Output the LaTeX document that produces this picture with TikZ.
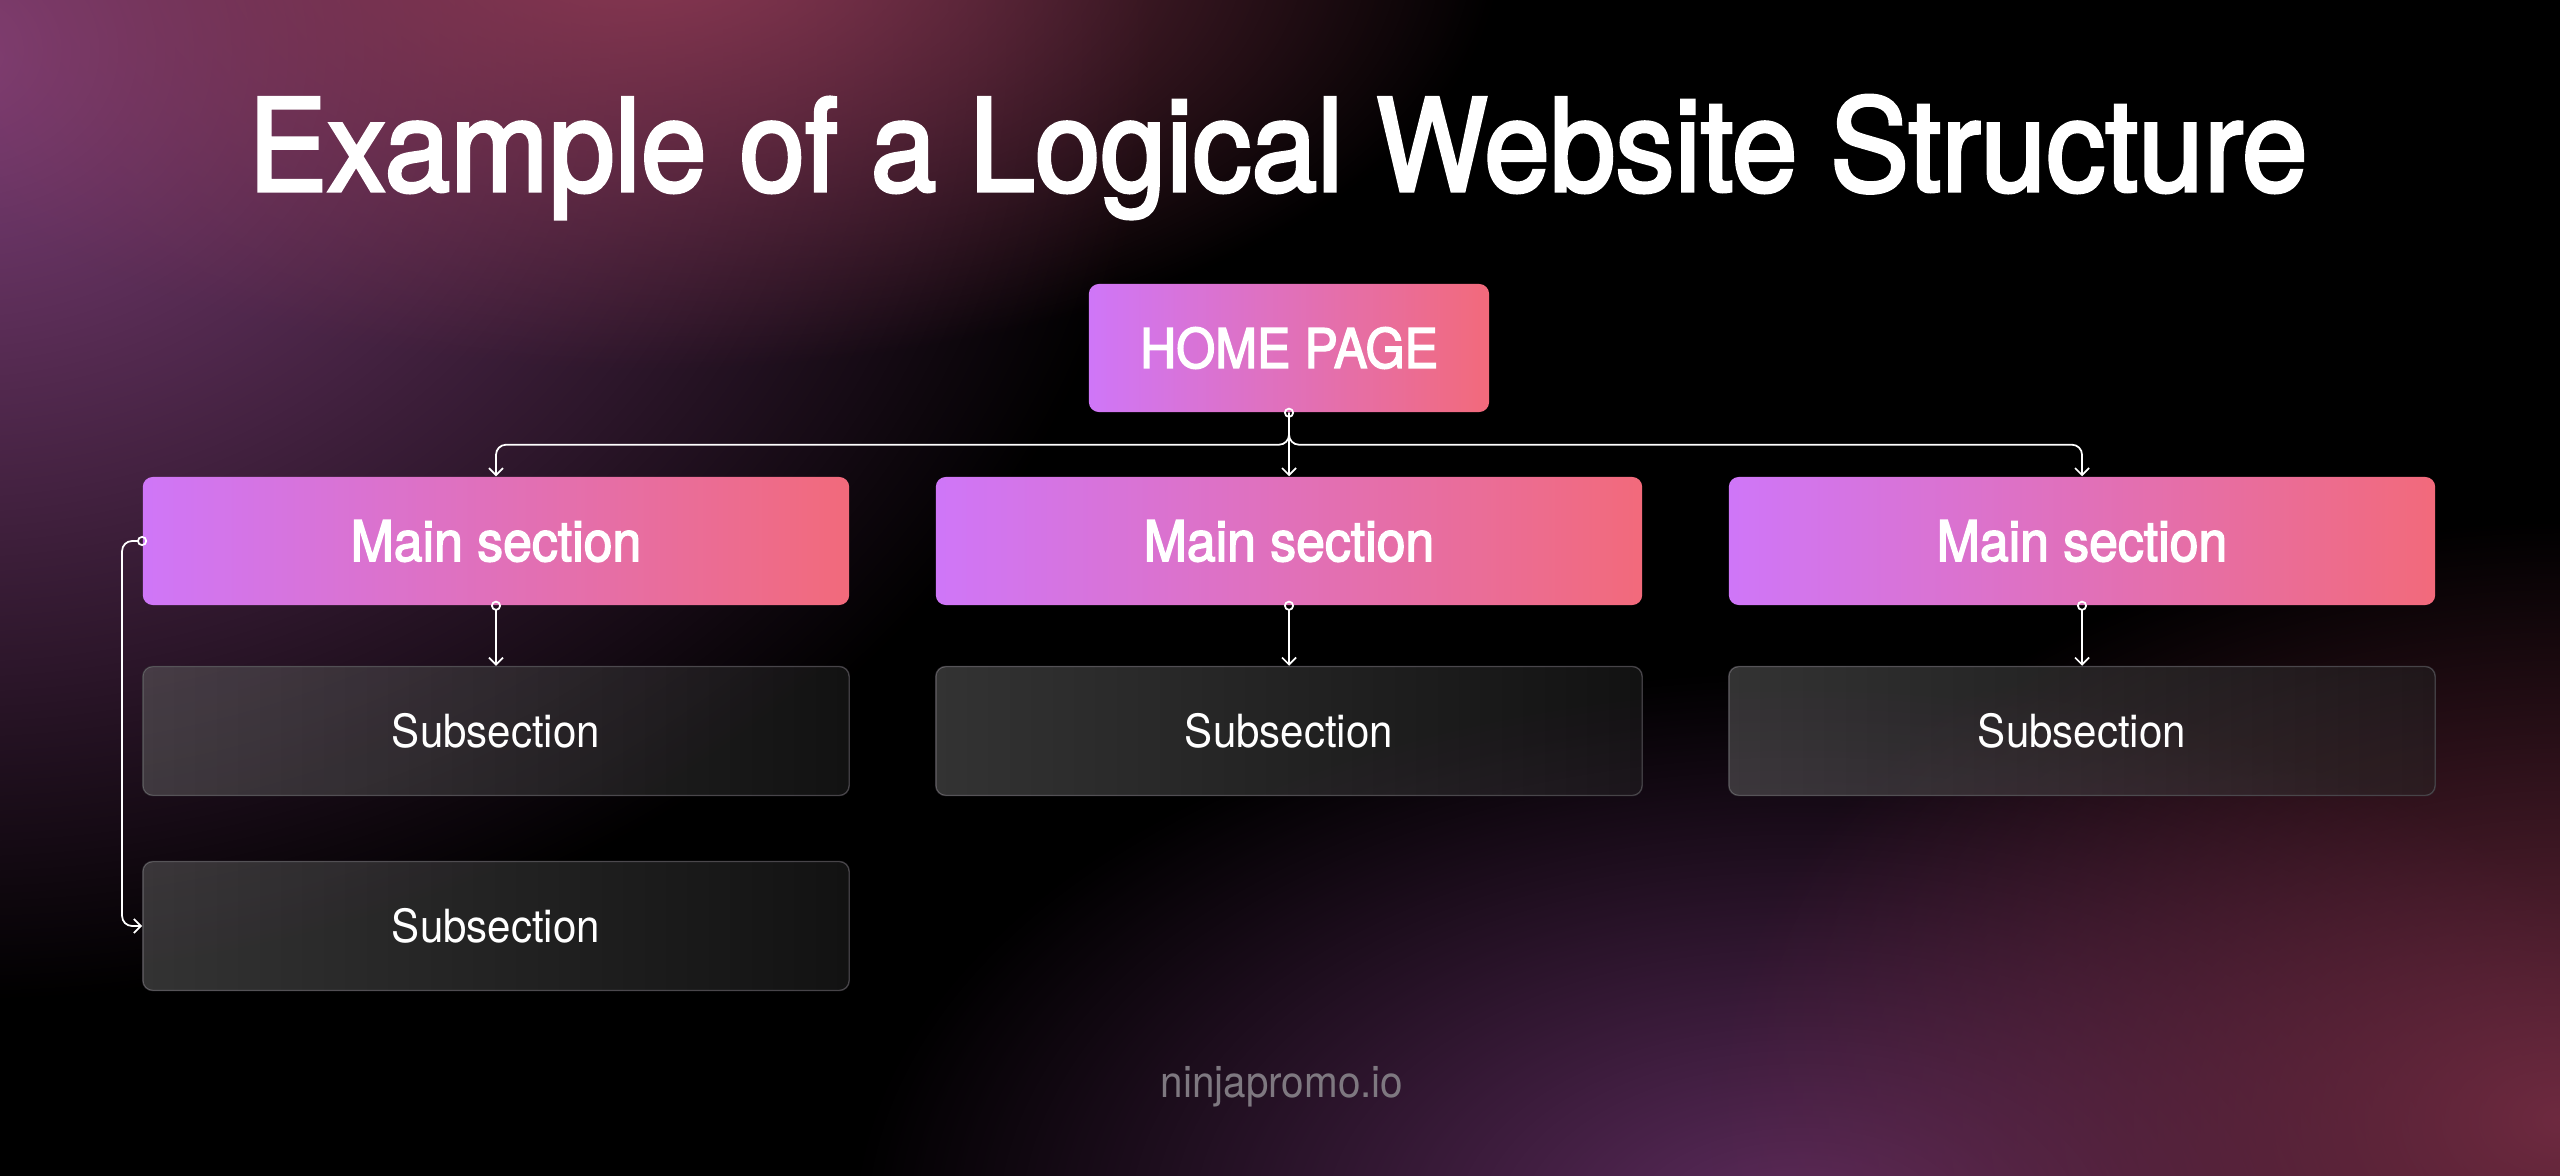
\documentclass[tikz,border=0pt]{standalone}
\usepackage{fontspec}
\setmainfont{TeX Gyre Heros}[FakeStretch=0.92]
\newfontfamily\mittel{TeX Gyre Heros}[FakeStretch=0.92,FakeBold=2.5]
\usetikzlibrary{arrows.meta,positioning,fadings,calc}

\definecolor{lila}{HTML}{CF76F8}
\definecolor{koralle}{HTML}{F26A7B}
\definecolor{glowA}{HTML}{80407A}
\definecolor{glowB}{HTML}{8A3852}
\definecolor{glowC}{HTML}{5E2C5E}
\definecolor{glowD}{HTML}{6E2A40}
\definecolor{rahmen}{HTML}{3E3B40}
\definecolor{grau}{HTML}{7E7880}

\tikzfading[name=glow, inner color=transparent!0, outer color=transparent!100]
\tikzfading[name=subfade, left color=transparent!80, right color=transparent!93]

\tikzset{
  haupt/.style={rounded corners=0.1cm, left color=lila, right color=koralle, text=white,
    minimum width=7.06cm, minimum height=1.28cm, inner sep=0pt, font=\mittel\fontsize{16}{19}\selectfont},
  unter/.style={rounded corners=0.1cm, draw=rahmen, line width=0.4pt, text=white,
    preaction={fill=black, fill opacity=0.4}, postaction={fill=white, path fading=subfade},
    minimum width=7.06cm, minimum height=1.29cm, inner sep=0pt, font=\fontsize{13}{16}\selectfont},
  pfeil/.style={white, line width=0.5pt, rounded corners=0.1cm,
    -{Straight Barb[length=0.07cm,width=0.14cm]}},
  mitkreis/.style={{Circle[open,length=0.1cm]}-{Straight Barb[length=0.07cm,width=0.14cm]},
    shorten <=-0.05cm},
}

\begin{document}
\begin{tikzpicture}[x=0.01cm,y=-0.01cm]
%Koordinaten in Pixeln des Originals (2560x1176), y nach unten
  \useasboundingbox (0,0) rectangle (2560,1176);
  \fill[black] (0,0) rectangle (2560,1176);
%Farbschleier oben links und unten rechts
\begin{scope}
  \clip (0,0) rectangle (2560,1176);
  \fill[glowA, path fading=glow] (-50,50) ellipse [x radius=1200, y radius=950];
  \fill[glowB, path fading=glow] (650,-50) ellipse [x radius=850, y radius=420];
  \fill[glowC, path fading=glow] (1800,1230) ellipse [x radius=950, y radius=560];
  \fill[glowD, path fading=glow] (2560,1120) ellipse [x radius=850, y radius=600];
\end{scope}

  \node[text=white, anchor=base, font=\mittel\fontsize{36.5}{42}\selectfont] (titel) at (1278,191)
    {Example of a Logical Website Structure};

  \node[haupt, minimum width=4cm, font=\mittel\fontsize{15.5}{18}\selectfont] (home) at (1289,348) {HOME PAGE};
\foreach \x [count=\i] in {496,1289,2082}{
  \node[haupt] (main\i) at (\x,541) {Main section};
  \node[unter] (sub\i) at (\x,731) {Subsection};
  \draw[pfeil,mitkreis] (main\i.south) -- (sub\i.north);
}
  \node[unter] (sub4) at (496,926) {Subsection};

  \draw[pfeil,mitkreis] (home.south) -- (main2.north);
  \draw[pfeil] (home.south) -- ++(0,32) -| (main1.north);
  \draw[pfeil] (home.south) -- ++(0,32) -| (main3.north);
  \draw[pfeil,mitkreis] (main1.west) -- ++(-20,0) |- (sub4.west);

  \node[text=grau, anchor=base, font=\fontsize{12.5}{15}\selectfont] (logo) at (1282,1097) {ninjapromo.io};
\end{tikzpicture}
\end{document}
